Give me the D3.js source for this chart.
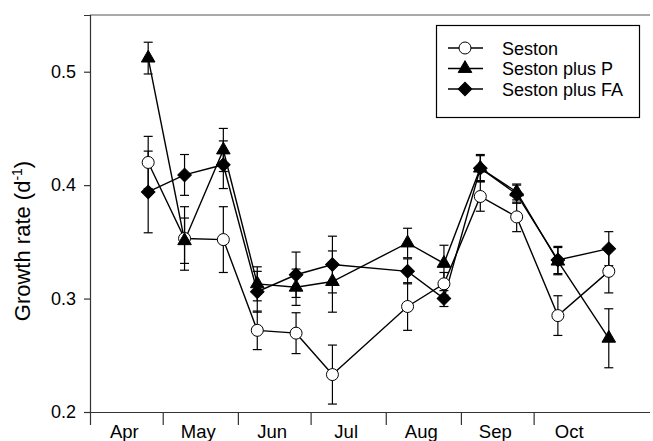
<!DOCTYPE html>
<html>
<head>
<meta charset="utf-8">
<script src="https://cdn.jsdelivr.net/npm/d3@7"></script>
<style>
  body { margin: 0; background: #fff; }
  svg { display: block; font-family: Arial, 'Liberation Sans', sans-serif; }
</style>
</head>
<body>
<svg width="653" height="441"></svg>
<script>
// sampling dates
const dates = ['2001-04-25', '2001-05-10', '2001-05-26', '2001-06-09', '2001-06-25', '2001-07-10',
	'2001-08-10', '2001-08-25', '2001-09-09', '2001-09-24', '2001-10-11', '2001-11-01'];

// growth rates (d-1) and standard errors
const seston = [0.420, 0.353, 0.352, 0.272, 0.2695, 0.233, 0.293, 0.313, 0.390, 0.372, 0.285, 0.324];
const sestonErr = [0.023, 0.028, 0.029, 0.017, 0.018, 0.026, 0.021, 0.010, 0.013, 0.013, 0.0175, 0.019];
const sestonP = [0.512, 0.351, 0.431, 0.313, 0.310, 0.315, 0.349, 0.331, 0.415, 0.394, 0.333, 0.265];
const sestonPErr = [0.014, 0.020, 0.019, 0.015, 0.016, 0.027, 0.013, 0.016, 0.012, 0.007, 0.012, 0.026];
const sestonFA = [0.394, 0.409, 0.418, 0.306, 0.321, 0.330, 0.324, 0.300, 0.415, 0.392, 0.334, 0.344];
const sestonFAErr = [0.036, 0.018, 0.021, 0.018, 0.020, 0.025, 0.011, 0.007, 0.011, 0.008, 0.012, 0.015];

const monthStarts = ['2001-04-01', '2001-05-01', '2001-06-01', '2001-07-01', '2001-08-01', '2001-09-01', '2001-10-01'];
const monthNames = ['Apr', 'May', 'Jun', 'Jul', 'Aug', 'Sep', 'Oct'];
const yTicks = [0.2, 0.3, 0.4, 0.5];

const parse = d3.utcParse('%Y-%m-%d');

let series = [
	{ name: 'Seston', values: seston, err: sestonErr, symbol: 'circle' },
	{ name: 'Seston plus P', values: sestonP, err: sestonPErr, symbol: 'triangle' },
	{ name: 'Seston plus FA', values: sestonFA, err: sestonFAErr, symbol: 'diamond' }
].map((s) => ({
	...s,
	points: s.values.map((v, i) => ({ date: parse(dates[i]), value: v, err: s.err[i] }))
}));

let svg = d3.select('svg');
let margin = { left: 90, right: 650, top: 15, bottom: 412 };

let x = d3.scaleUtc().domain([parse('2001-04-01'), parse('2001-11-18')]).range([margin.left, margin.right]);
let y = d3.scaleLinear().domain([0.2, 0.55]).range([margin.bottom, margin.top]);

// symbols
let symbolPath = (type) => {
	if (type === 'circle') return d3.symbol(d3.symbolCircle, 113)();
	if (type === 'triangle') return d3.symbol(d3.symbolTriangle, 80)();
	return d3.symbol(d3.symbolSquare, 92)();
};
let symbolRotate = (type) => (type === 'diamond' ? ' rotate(45)' : '');

// top frame line
svg.append('line')
	.attr('x1', margin.left).attr('x2', margin.right)
	.attr('y1', margin.top).attr('y2', margin.top)
	.attr('stroke', '#555').attr('stroke-width', 1.2);

// y axis
let yAxis = svg.append('g')
	.attr('transform', 'translate(' + margin.left + ',0)')
	.call(d3.axisLeft(y).tickValues(yTicks).tickFormat(d3.format('.1f')).tickSizeOuter(0).tickSize(6).tickPadding(8));
yAxis.select('.domain').attr('stroke', '#333').attr('stroke-width', 1.2);
yAxis.selectAll('.tick line').attr('stroke', '#333').attr('stroke-width', 1.2);
yAxis.selectAll('.tick text').attr('font-size', 18).attr('fill', '#000')
	.attr('font-family', 'Arial, Liberation Sans, sans-serif');

// x axis: month boundary ticks, labels mid-month
let xAxis = svg.append('g')
	.attr('transform', 'translate(0,' + margin.bottom + ')')
	.call(d3.axisBottom(x).tickValues(monthStarts.map(parse)).tickFormat('').tickSize(13).tickSizeOuter(0));
xAxis.select('.domain').attr('d', 'M' + (margin.left - 6) + ',0.5H' + margin.right).attr('stroke', '#333').attr('stroke-width', 1.2);
xAxis.selectAll('.tick line').attr('stroke', '#333').attr('stroke-width', 1.2);

svg.append('g')
	.selectAll('text')
	.data(monthStarts)
	.join('text')
	.attr('x', (d) => {
		let s = parse(d);
		let e = d3.utcMonth.offset(s, 1);
		return (x(s) + x(e)) / 2 - 2;
	})
	.attr('y', 438)
	.attr('text-anchor', 'middle')
	.attr('font-size', 18.5)
	.text((d, i) => monthNames[i]);

// y label
let yLabel = svg.append('text')
	.attr('transform', 'translate(30,241) rotate(-90)')
	.attr('text-anchor', 'middle')
	.attr('font-size', 22);
yLabel.append('tspan').text('Growth rate (d');
yLabel.append('tspan').attr('dy', -8).attr('font-size', 14).text('-1');
yLabel.append('tspan').attr('dy', 8).text(')');

let line = d3.line()
	.x((d) => x(d.date))
	.y((d) => y(d.value));

// error bars
series.forEach((s) => {
	let g = svg.append('g').attr('stroke', '#000').attr('stroke-width', 1.2);
	s.points.forEach((d) => {
		let cx = x(d.date);
		let y0 = y(d.value - d.err), y1 = y(d.value + d.err);
		g.append('line').attr('x1', cx).attr('x2', cx).attr('y1', y0).attr('y2', y1);
		g.append('line').attr('x1', cx - 4.5).attr('x2', cx + 4.5).attr('y1', y0).attr('y2', y0);
		g.append('line').attr('x1', cx - 4.5).attr('x2', cx + 4.5).attr('y1', y1).attr('y2', y1);
	});
});

// lines and markers
series.forEach((s) => {
	svg.append('path')
		.datum(s.points)
		.attr('fill', 'none')
		.attr('stroke', '#000')
		.attr('stroke-width', 1.4)
		.attr('d', line);
});
series.forEach((s) => {
	svg.append('g')
		.selectAll('path')
		.data(s.points)
		.join('path')
		.attr('transform', (d) => 'translate(' + x(d.date) + ',' + y(d.value) + ')' + symbolRotate(s.symbol))
		.attr('d', symbolPath(s.symbol))
		.attr('fill', s.symbol === 'circle' ? '#fff' : '#000')
		.attr('stroke', '#000')
		.attr('stroke-width', 1);
});

// legend
let legend = svg.append('g');
legend.append('rect')
	.attr('x', 436.5).attr('y', 25.5)
	.attr('width', 203).attr('height', 92)
	.attr('fill', '#fff').attr('stroke', '#000').attr('stroke-width', 1.2);
series.forEach((s, i) => {
	let ly = 48 + i * 20.5;
	legend.append('line')
		.attr('x1', 448).attr('x2', 483).attr('y1', ly).attr('y2', ly)
		.attr('stroke', '#000').attr('stroke-width', 1.4);
	legend.append('path')
		.attr('transform', 'translate(465,' + ly + ')' + symbolRotate(s.symbol))
		.attr('d', symbolPath(s.symbol))
		.attr('fill', s.symbol === 'circle' ? '#fff' : '#000')
		.attr('stroke', '#000').attr('stroke-width', 1);
	legend.append('text')
		.attr('x', 502).attr('y', ly + 6.5)
		.attr('font-size', 18)
		.text(s.name);
});
</script>
</body>
</html>
